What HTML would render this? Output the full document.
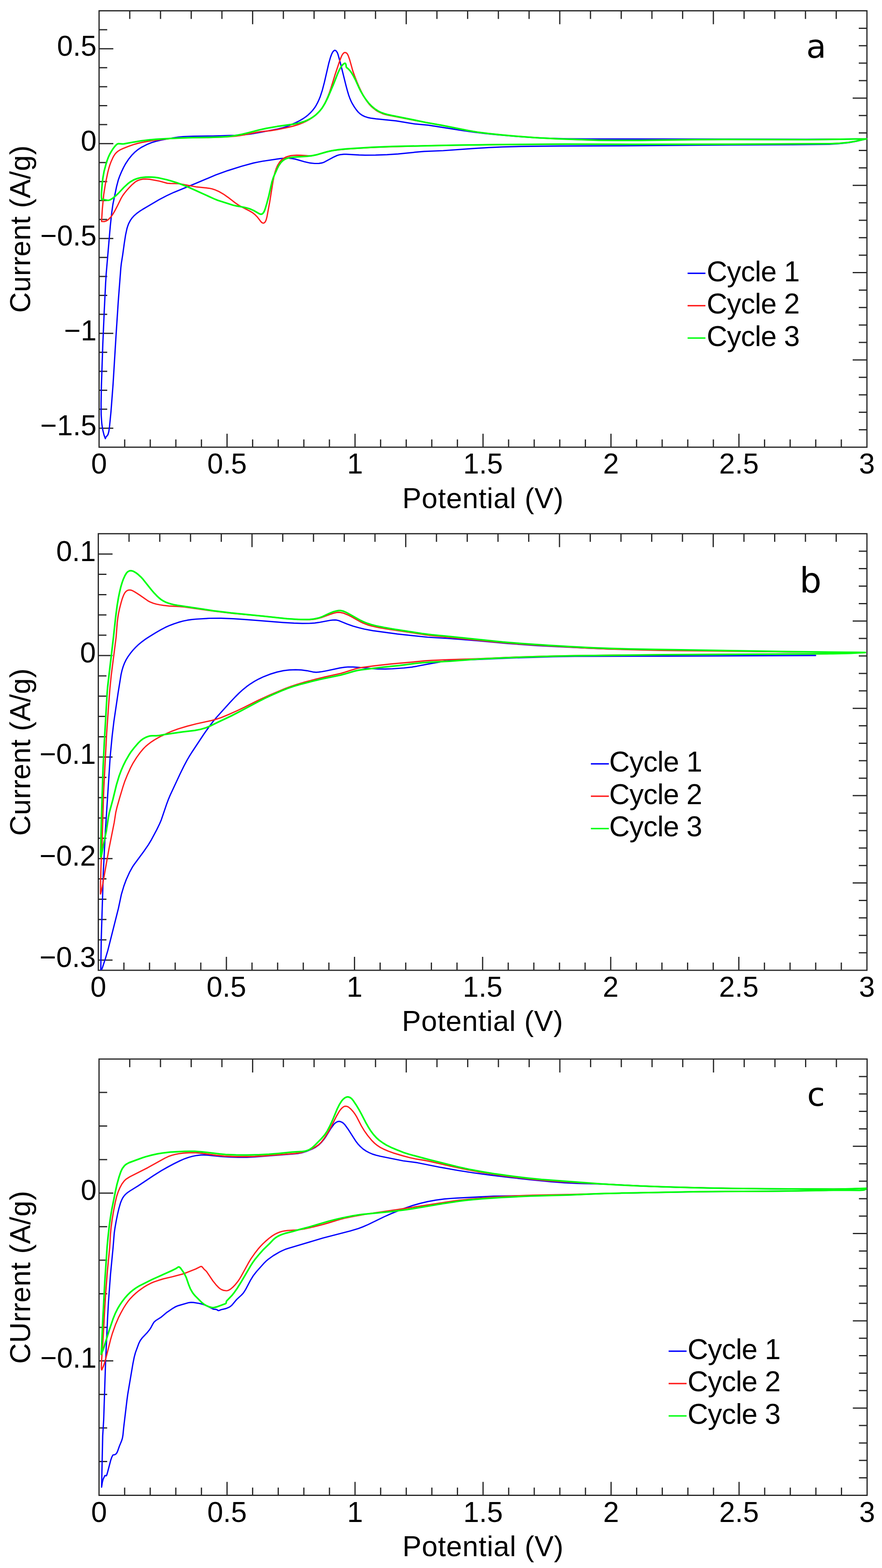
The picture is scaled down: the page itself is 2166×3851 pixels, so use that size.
<!DOCTYPE html>
<html><head><meta charset="utf-8"><title>Cyclic voltammetry</title>
<style>html,body{margin:0;padding:0;background:#fff;}svg{display:block;}</style></head>
<body><svg xmlns="http://www.w3.org/2000/svg" width="2166" height="3851" viewBox="0 0 2166 3851" font-family='"Liberation Sans", Arial, sans-serif' font-size="70" fill="#000">
<rect width="2166" height="3851" fill="#fff"/>
<rect x="243.3" y="26.5" width="1885.7" height="1071.8" fill="none" stroke="#262626" stroke-width="3"/>
<path d="M306.2,1098.3v-19 M369.0,1098.3v-19 M431.9,1098.3v-19 M494.7,1098.3v-19 M557.6,1098.3v-33 M620.4,1098.3v-19 M683.3,1098.3v-19 M746.2,1098.3v-19 M809.0,1098.3v-19 M871.9,1098.3v-33 M934.7,1098.3v-19 M997.6,1098.3v-19 M1060.4,1098.3v-19 M1123.3,1098.3v-19 M1186.2,1098.3v-33 M1249.0,1098.3v-19 M1311.9,1098.3v-19 M1374.7,1098.3v-19 M1437.6,1098.3v-19 M1500.4,1098.3v-33 M1563.3,1098.3v-19 M1626.1,1098.3v-19 M1689.0,1098.3v-19 M1751.9,1098.3v-19 M1814.7,1098.3v-33 M1877.6,1098.3v-19 M1940.4,1098.3v-19 M2003.3,1098.3v-19 M2066.1,1098.3v-19 M318.7,26.5v20 M394.2,26.5v20 M469.6,26.5v20 M545.0,26.5v20 M620.4,26.5v33 M695.9,26.5v20 M771.3,26.5v20 M846.7,26.5v20 M922.2,26.5v20 M997.6,26.5v33 M1073.0,26.5v20 M1148.4,26.5v20 M1223.9,26.5v20 M1299.3,26.5v20 M1374.7,26.5v33 M1450.1,26.5v20 M1525.6,26.5v20 M1601.0,26.5v20 M1676.4,26.5v20 M1751.9,26.5v33 M1827.3,26.5v20 M1902.7,26.5v20 M1978.1,26.5v20 M2053.6,26.5v20 M2129,69.4h-20 M2129,112.2h-20 M2129,155.1h-20 M2129,198.0h-20 M2129,240.9h-35 M2129,283.7h-20 M2129,326.6h-20 M2129,369.5h-20 M2129,412.3h-20 M2129,455.2h-35 M2129,498.1h-20 M2129,541.0h-20 M2129,583.8h-20 M2129,626.7h-20 M2129,669.6h-35 M2129,712.5h-20 M2129,755.3h-20 M2129,798.2h-20 M2129,841.1h-20 M2129,883.9h-35 M2129,926.8h-20 M2129,969.7h-20 M2129,1012.6h-20 M2129,1055.4h-20 M243.3,1051.7h35 M243.3,1005.1h20 M243.3,958.5h20 M243.3,911.9h20 M243.3,865.3h20 M243.3,818.7h35 M243.3,772.1h20 M243.3,725.5h20 M243.3,678.9h20 M243.3,632.3h20 M243.3,585.7h35 M243.3,539.1h20 M243.3,492.5h20 M243.3,445.9h20 M243.3,399.3h20 M243.3,352.7h35 M243.3,306.1h20 M243.3,259.5h20 M243.3,212.9h20 M243.3,166.3h20 M243.3,119.7h35 M243.3,73.1h20" stroke="#262626" stroke-width="3" fill="none"/>
<text x="243.3" y="1163.3" text-anchor="middle">0</text>
<text x="557.6" y="1163.3" text-anchor="middle">0.5</text>
<text x="871.9" y="1163.3" text-anchor="middle">1</text>
<text x="1186.2" y="1163.3" text-anchor="middle">1.5</text>
<text x="1500.4" y="1163.3" text-anchor="middle">2</text>
<text x="1814.7" y="1163.3" text-anchor="middle">2.5</text>
<text x="2129.0" y="1163.3" text-anchor="middle">3</text>
<text x="237.3" y="1068.7" text-anchor="end">−1.5</text>
<text x="237.3" y="835.7" text-anchor="end">−1</text>
<text x="237.3" y="602.7" text-anchor="end">−0.5</text>
<text x="237.3" y="369.7" text-anchor="end">0</text>
<text x="237.3" y="136.7" text-anchor="end">0.5</text>
<text x="1186.2" y="1247.7" text-anchor="middle" letter-spacing="0.85">Potential (V)</text>
<text transform="translate(73.5,562.4) rotate(-90)" text-anchor="middle" letter-spacing="0.55">Current (A/g)</text>
<path d="M2128.0,341.0 2103.2,346.9 2084.0,350.3 2060.2,353.0 2036.2,354.3 1946.2,355.3 1737.6,356.3 1514.1,358.2 1374.6,358.6 1280.0,359.7 1233.5,360.9 1200.6,362.3 1160.1,364.8 1088.3,370.0 1041.8,371.9 1026.9,373.1 977.6,378.2 950.7,379.9 922.2,380.9 896.7,381.1 881.7,380.6 850.3,378.8 844.3,378.8 835.3,379.8 828.1,381.8 817.3,386.8 796.3,398.2 790.6,400.2 783.2,401.4 772.7,401.5 760.8,400.2 747.7,397.3 724.7,390.6 717.3,389.3 708.4,388.5 699.4,388.5 689.0,389.4 644.5,396.0 632.7,398.2 622.4,400.4 593.5,408.3 559.1,419.1 529.5,429.8 481.1,450.3 427.0,472.4 409.3,480.6 390.7,490.4 350.6,514.0 341.8,519.7 335.8,524.1 329.1,530.0 324.1,535.6 319.9,541.7 315.8,549.6 313.7,555.2 311.9,560.9 308.4,577.0 305.4,596.3 301.3,626.0 298.0,646.7 296.8,657.1 290.5,739.4 285.0,823.3 277.7,943.1 272.6,1010.4 269.1,1046.2 267.3,1059.5 265.4,1066.6 264.1,1069.1 260.3,1073.1 258.8,1077.3 257.1,1073.1 255.2,1067.4 253.0,1058.7 251.1,1048.4 249.9,1039.5 248.4,1018.6 248.2,991.6 249.0,948.1 252.5,844.6 256.0,763.7 259.4,694.8 260.8,672.3 270.8,555.7 274.3,522.9 277.2,502.1 286.3,458.1 290.5,442.1 294.0,432.3 298.7,421.2 303.2,411.7 308.2,402.5 315.6,391.3 323.1,381.9 331.4,373.4 339.6,366.8 348.4,361.2 360.4,355.1 372.9,350.0 384.4,346.6 396.1,344.0 425.6,338.5 437.4,336.8 449.4,335.7 474.8,334.5 522.8,334.0 576.8,332.3 599.3,331.0 615.7,329.2 645.2,324.0 682.0,316.8 693.7,314.1 703.7,310.9 713.4,307.0 725.7,301.5 736.4,296.1 744.2,291.5 750.4,287.3 756.2,282.7 762.8,276.5 767.8,271.0 772.4,265.1 776.4,258.8 779.9,252.2 783.1,245.4 786.5,237.1 791.6,221.4 796.5,202.6 807.3,155.8 811.4,141.4 813.9,134.4 816.4,128.9 819.1,125.3 821.5,123.7 823.0,123.6 824.3,124.2 825.5,125.1 828.1,128.7 829.8,132.8 835.1,151.5 849.6,209.8 853.5,224.3 856.5,234.3 859.1,241.3 862.0,248.2 864.7,253.6 870.1,262.6 875.2,269.9 880.0,275.6 884.4,279.6 889.2,283.0 895.8,286.3 902.9,288.6 910.2,290.1 923.5,291.8 972.8,296.8 1018.6,304.4 1051.4,307.4 1134.4,320.4 1162.6,324.3 1190.9,327.8 1220.8,330.9 1273.1,335.4 1306.0,337.7 1334.5,339.2 1393.0,340.9 1456.0,341.4 1781.5,341.5 1979.5,342.0 2071.0,341.7 2128.0,341.0" fill="none" stroke="#0000ff" stroke-width="3.2" stroke-linejoin="round" stroke-linecap="round"/>
<path d="M2128.0,341.0 2100.2,347.1 2085.4,349.6 2063.0,351.8 2039.0,352.9 1784.0,354.3 1548.5,354.5 1369.9,354.1 1200.4,355.4 1059.4,357.7 947.0,360.8 915.5,362.1 885.5,363.8 854.1,365.9 833.2,367.9 818.3,369.7 808.0,371.6 799.3,373.9 779.2,379.8 773.3,381.1 767.5,382.1 757.1,382.5 739.1,381.4 728.6,381.1 721.2,381.5 713.8,382.4 706.6,384.2 701.1,386.3 696.0,389.2 691.4,392.9 686.6,398.4 681.9,406.0 678.3,414.2 675.0,424.1 672.9,432.9 670.3,446.1 662.3,496.5 655.7,531.9 653.9,539.1 652.2,543.3 650.7,545.8 648.4,547.6 646.9,548.0 645.5,547.9 642.9,546.5 640.8,544.4 631.6,532.6 626.4,527.3 620.6,522.7 612.9,518.1 592.9,507.8 585.1,503.4 577.7,498.3 559.9,484.6 548.8,476.8 538.5,470.8 529.0,466.6 520.4,463.8 513.1,462.3 483.3,459.2 443.6,451.7 434.7,450.8 418.3,450.7 411.0,450.1 391.2,444.8 367.7,440.4 357.4,439.6 351.4,439.9 347.1,440.6 342.8,441.7 338.7,443.3 334.7,445.3 331.1,447.8 323.2,454.6 317.0,461.1 311.1,467.8 305.4,474.8 301.1,480.8 297.3,487.3 288.1,506.1 281.1,519.4 276.5,527.1 272.1,533.1 266.0,539.4 261.1,542.6 258.3,543.6 255.4,544.2 249.4,543.8 251.4,512.4 254.7,478.0 258.9,451.3 264.7,423.4 267.3,413.3 269.9,404.7 273.1,396.3 276.8,388.1 279.6,382.8 282.9,377.9 286.9,373.7 290.3,371.0 295.3,367.9 302.1,364.8 316.0,359.3 327.4,355.3 337.5,352.4 347.7,350.0 369.8,345.9 393.6,342.8 414.5,340.7 427.9,339.7 460.9,338.5 513.4,337.7 541.9,336.9 564.4,335.7 580.8,334.2 595.7,331.9 632.4,324.6 641.3,323.4 665.2,320.9 681.5,318.2 707.9,312.7 719.6,309.9 732.5,305.9 743.7,301.6 751.8,297.8 759.7,293.5 767.2,288.6 773.2,284.1 779.9,278.1 785.0,272.7 789.7,266.9 793.8,260.6 797.4,254.1 801.4,246.0 805.5,236.4 809.3,226.6 813.1,215.2 822.3,185.1 832.8,153.8 837.4,141.1 839.9,135.7 842.3,132.0 844.4,129.9 845.7,129.2 847.2,129.0 848.7,129.1 851.3,130.5 853.2,132.8 855.2,136.8 858.7,146.6 866.4,174.1 871.4,188.2 876.4,200.8 881.7,213.2 887.5,225.4 892.3,234.7 900.1,247.5 907.5,256.9 911.6,261.2 917.2,266.1 922.0,269.8 926.9,273.1 932.2,275.9 939.0,278.9 946.1,281.1 953.4,282.9 1021.1,296.3 1080.2,306.9 1144.9,319.8 1162.6,323.0 1187.9,326.6 1225.2,330.7 1261.0,334.0 1308.9,337.6 1337.4,339.4 1367.3,340.8 1440.8,343.6 1467.8,344.3 1511.3,344.7 1571.3,344.7 1709.4,343.0 1781.4,342.5 1987.0,342.9 2062.0,342.1 2128.0,341.0" fill="none" stroke="#ff1c1c" stroke-width="3.2" stroke-linejoin="round" stroke-linecap="round"/>
<path d="M2128.0,341.0 2100.2,347.1 2083.9,349.8 2061.5,351.9 2037.5,352.9 1790.0,354.3 1547.0,354.5 1391.0,354.0 1235.0,355.0 1118.0,356.6 962.0,359.7 912.6,361.7 852.7,365.4 831.8,367.5 814.0,370.3 802.3,373.0 779.3,379.7 764.6,382.7 752.7,384.0 722.8,385.8 712.4,387.0 706.6,388.3 702.5,389.8 698.6,391.8 694.9,394.2 689.7,399.3 684.7,406.6 680.6,414.6 671.6,435.1 667.9,446.5 660.0,481.6 655.4,499.0 651.6,511.9 649.6,517.5 647.6,521.5 644.7,524.9 642.0,526.1 640.6,526.2 637.7,525.4 623.4,517.3 616.6,514.2 611.0,512.1 600.9,509.4 581.7,506.0 572.9,504.1 534.5,491.9 526.2,488.5 464.8,460.6 449.5,454.4 435.4,449.2 421.2,444.6 409.6,441.4 390.6,437.1 380.3,435.5 372.8,434.9 365.3,434.8 357.8,435.0 350.4,435.7 344.5,436.6 338.7,438.0 333.0,439.8 327.6,442.2 321.1,445.9 314.0,451.2 304.1,460.4 290.9,474.5 285.6,479.6 276.8,487.0 272.0,489.9 269.5,491.1 267.0,491.9 264.2,492.0 252.6,489.8 251.1,490.0 249.8,490.7 249.1,484.7 248.9,478.8 249.3,471.3 251.1,450.4 252.7,437.0 255.6,420.7 260.6,401.9 263.4,393.4 266.0,386.4 269.1,379.5 272.7,373.0 277.5,365.4 282.0,359.5 286.1,355.2 288.5,353.5 291.3,352.7 300.2,353.6 304.7,353.3 328.2,348.9 346.0,346.1 366.8,343.4 383.3,342.0 419.2,340.0 447.7,338.8 473.2,338.1 512.2,337.5 536.1,336.7 552.6,335.9 566.1,334.7 579.4,332.7 595.6,329.5 610.2,326.0 636.3,319.1 653.8,315.3 680.4,310.6 722.0,304.8 735.2,301.9 746.6,298.5 753.6,295.7 760.3,292.4 766.7,288.6 771.6,285.2 776.3,281.5 781.7,276.3 786.7,270.8 791.3,264.9 798.3,253.4 804.9,240.0 818.5,208.3 828.9,181.7 833.8,170.8 836.7,165.6 840.1,160.7 843.2,157.5 845.7,155.7 847.0,155.3 848.2,155.9 849.0,157.1 849.8,160.0 850.3,164.4 851.0,165.6 855.6,169.5 859.7,173.9 863.2,178.7 867.1,185.1 872.7,195.7 881.3,214.8 885.3,222.9 891.2,233.3 897.8,243.3 905.0,252.8 913.3,261.4 921.4,268.0 930.3,273.6 937.0,276.7 944.1,279.2 951.3,281.2 961.5,283.5 1017.4,294.7 1045.2,300.6 1085.1,307.8 1151.3,321.0 1172.0,324.4 1201.7,328.2 1236.1,331.8 1270.4,334.7 1316.8,338.2 1370.7,341.0 1442.6,343.6 1471.1,344.4 1514.6,344.8 1573.1,344.7 1708.1,343.0 1781.6,342.5 1987.0,342.9 2062.0,342.1 2128.0,341.0" fill="none" stroke="#00ff10" stroke-width="4" stroke-linejoin="round" stroke-linecap="round"/>
<path d="M1688.6,671.3H1732.4" stroke="#0000ff" stroke-width="3.5"/>
<text x="1735.6" y="690.6" letter-spacing="-0.8">Cycle 1</text>
<path d="M1688.6,750.8H1732.4" stroke="#ff1c1c" stroke-width="3.5"/>
<text x="1735.6" y="770.1" letter-spacing="-0.8">Cycle 2</text>
<path d="M1688.6,830.3H1732.4" stroke="#00ff10" stroke-width="3.5"/>
<text x="1735.6" y="849.6" letter-spacing="-0.8">Cycle 3</text>
<text x="1980" y="141.7" font-family='"DejaVu Sans", sans-serif' font-size="80">a</text>
<rect x="241.4" y="1310.8" width="1887.6" height="1072.2" fill="none" stroke="#262626" stroke-width="3"/>
<path d="M304.3,2383v-19 M367.2,2383v-19 M430.2,2383v-19 M493.1,2383v-19 M556.0,2383v-33 M618.9,2383v-19 M681.8,2383v-19 M744.8,2383v-19 M807.7,2383v-19 M870.6,2383v-33 M933.5,2383v-19 M996.4,2383v-19 M1059.4,2383v-19 M1122.3,2383v-19 M1185.2,2383v-33 M1248.1,2383v-19 M1311.0,2383v-19 M1374.0,2383v-19 M1436.9,2383v-19 M1499.8,2383v-33 M1562.7,2383v-19 M1625.6,2383v-19 M1688.6,2383v-19 M1751.5,2383v-19 M1814.4,2383v-33 M1877.3,2383v-19 M1940.2,2383v-19 M2003.2,2383v-19 M2066.1,2383v-19 M316.9,1310.8v20 M392.4,1310.8v20 M467.9,1310.8v20 M543.4,1310.8v20 M618.9,1310.8v33 M694.4,1310.8v20 M769.9,1310.8v20 M845.4,1310.8v20 M920.9,1310.8v20 M996.4,1310.8v33 M1071.9,1310.8v20 M1147.4,1310.8v20 M1223.0,1310.8v20 M1298.5,1310.8v20 M1374.0,1310.8v33 M1449.5,1310.8v20 M1525.0,1310.8v20 M1600.5,1310.8v20 M1676.0,1310.8v20 M1751.5,1310.8v33 M1827.0,1310.8v20 M1902.5,1310.8v20 M1978.0,1310.8v20 M2053.5,1310.8v20 M2129,1353.7h-20 M2129,1396.6h-20 M2129,1439.5h-20 M2129,1482.4h-20 M2129,1525.2h-35 M2129,1568.1h-20 M2129,1611.0h-20 M2129,1653.9h-20 M2129,1696.8h-20 M2129,1739.7h-35 M2129,1782.6h-20 M2129,1825.5h-20 M2129,1868.3h-20 M2129,1911.2h-20 M2129,1954.1h-35 M2129,1997.0h-20 M2129,2039.9h-20 M2129,2082.8h-20 M2129,2125.7h-20 M2129,2168.6h-35 M2129,2211.4h-20 M2129,2254.3h-20 M2129,2297.2h-20 M2129,2340.1h-20 M241.4,1360.7h35 M241.4,1410.5h20 M241.4,1460.4h20 M241.4,1510.3h20 M241.4,1560.1h20 M241.4,1610.0h35 M241.4,1659.9h20 M241.4,1709.7h20 M241.4,1759.6h20 M241.4,1809.5h20 M241.4,1859.3h35 M241.4,1909.2h20 M241.4,1959.1h20 M241.4,2009.0h20 M241.4,2058.8h20 M241.4,2108.7h35 M241.4,2158.6h20 M241.4,2208.4h20 M241.4,2258.3h20 M241.4,2308.2h20 M241.4,2358.1h35" stroke="#262626" stroke-width="3" fill="none"/>
<text x="241.4" y="2448" text-anchor="middle">0</text>
<text x="556.0" y="2448" text-anchor="middle">0.5</text>
<text x="870.6" y="2448" text-anchor="middle">1</text>
<text x="1185.2" y="2448" text-anchor="middle">1.5</text>
<text x="1499.8" y="2448" text-anchor="middle">2</text>
<text x="1814.4" y="2448" text-anchor="middle">2.5</text>
<text x="2129.0" y="2448" text-anchor="middle">3</text>
<text x="235.4" y="1377.7" text-anchor="end">0.1</text>
<text x="235.4" y="1627.0" text-anchor="end">0</text>
<text x="235.4" y="1876.3" text-anchor="end">−0.1</text>
<text x="235.4" y="2125.7" text-anchor="end">−0.2</text>
<text x="235.4" y="2375.1" text-anchor="end">−0.3</text>
<text x="1185.2" y="2532.4" text-anchor="middle" letter-spacing="0.85">Potential (V)</text>
<text transform="translate(73.5,1846.9) rotate(-90)" text-anchor="middle" letter-spacing="0.55">Current (A/g)</text>
<path d="M2003.0,1609.8 1634.0,1611.5 1412.0,1611.8 1358.0,1612.8 1247.1,1616.3 1166.2,1620.0 1118.2,1621.4 1103.2,1622.4 1091.4,1623.9 1054.4,1630.3 1023.5,1636.3 1011.7,1638.3 992.3,1640.5 963.9,1642.5 945.9,1643.1 926.4,1642.8 914.4,1642.1 893.5,1640.0 866.6,1638.2 854.7,1638.0 845.8,1638.8 835.4,1640.4 803.1,1647.3 791.3,1649.5 782.4,1650.7 776.5,1651.1 770.5,1650.7 754.3,1647.3 739.5,1645.4 726.0,1644.8 711.0,1645.4 696.2,1647.1 680.1,1650.6 662.9,1655.9 647.5,1661.9 635.3,1667.7 624.8,1673.4 614.7,1679.8 606.1,1685.9 596.8,1693.4 586.8,1702.5 577.3,1712.0 564.9,1725.1 532.7,1760.7 524.0,1771.0 514.9,1782.9 501.0,1802.5 471.2,1847.5 464.8,1857.7 459.5,1866.7 451.8,1881.3 442.5,1900.1 417.8,1953.1 413.2,1964.2 409.0,1975.5 396.0,2013.8 391.9,2023.4 384.7,2038.3 372.0,2062.1 364.3,2074.9 353.2,2091.0 329.2,2123.5 325.1,2129.7 317.9,2142.8 309.9,2160.6 304.2,2176.1 298.2,2196.2 290.7,2231.4 264.7,2334.6 258.7,2354.7 251.2,2377.5 250.0,2380.2 248.9,2381.1 247.5,2381.1 248.7,2304.6 253.8,2141.2 258.8,2040.8 270.6,1858.2 275.3,1808.9 279.7,1771.7 290.0,1702.0 297.4,1656.1 299.8,1645.9 302.4,1637.3 305.6,1628.9 309.5,1620.8 314.1,1613.1 320.2,1604.6 326.8,1596.5 333.0,1589.9 340.6,1582.7 348.7,1576.1 355.9,1570.7 365.9,1564.1 382.5,1553.8 395.5,1546.3 406.1,1540.8 417.1,1535.9 426.9,1532.2 438.3,1528.4 449.8,1525.3 460.1,1523.2 470.5,1521.7 482.4,1520.5 515.4,1518.5 542.4,1518.4 573.8,1519.6 606.8,1521.8 695.0,1528.8 721.9,1530.4 742.9,1531.1 759.4,1531.0 772.9,1530.2 783.2,1528.7 811.3,1523.5 817.2,1522.8 823.2,1522.7 827.7,1523.2 832.0,1524.3 852.8,1532.7 867.0,1537.7 881.4,1541.8 894.5,1545.0 915.1,1548.9 976.0,1557.2 1050.6,1565.0 1100.0,1568.0 1135.9,1570.6 1173.3,1573.7 1246.5,1580.4 1319.8,1585.6 1363.2,1588.0 1456.1,1592.5 1495.1,1593.8 1552.1,1595.1 1951.0,1601.1 2125.0,1602.5" fill="none" stroke="#0000ff" stroke-width="3.2" stroke-linejoin="round" stroke-linecap="round"/>
<path d="M2125.0,1602.5 2087.6,1604.5 2038.1,1605.5 1937.6,1606.3 1616.7,1608.1 1480.3,1609.4 1388.8,1610.6 1333.3,1611.8 1282.4,1613.3 1237.4,1615.0 1168.5,1618.1 1102.5,1620.0 1060.6,1621.8 1044.1,1622.9 1014.3,1625.9 960.5,1630.6 920.3,1635.1 886.1,1639.7 877.3,1641.5 870.1,1643.4 847.3,1650.8 837.2,1653.8 797.7,1662.6 774.4,1668.3 749.7,1674.8 728.2,1681.2 714.0,1686.0 699.9,1691.3 662.6,1706.9 632.6,1720.6 597.8,1738.1 581.5,1745.9 561.0,1755.0 542.9,1762.4 531.6,1766.3 521.5,1769.1 482.0,1777.8 460.2,1783.4 437.2,1790.2 421.7,1795.9 409.4,1801.4 397.2,1807.2 387.9,1812.1 378.9,1817.4 371.4,1822.3 364.2,1827.7 357.4,1833.5 352.1,1838.9 344.4,1848.0 335.6,1860.1 326.8,1874.1 320.5,1886.0 312.5,1903.8 306.4,1919.1 302.1,1931.9 293.9,1959.2 287.4,1982.2 284.3,1995.4 280.4,2020.5 267.5,2085.2 251.3,2176.8 248.9,2188.5 246.8,2195.7 246.9,2168.7 248.0,2129.7 250.9,2062.3 253.7,1967.8 254.9,1936.3 261.9,1801.5 266.8,1731.1 270.1,1689.2 273.3,1657.9 285.1,1565.6 288.0,1528.3 289.5,1516.4 291.2,1506.0 293.7,1494.3 297.5,1479.7 300.0,1471.1 303.1,1462.7 305.7,1457.4 308.2,1453.8 311.6,1450.9 314.3,1449.6 317.2,1449.0 320.2,1449.1 323.1,1449.8 327.2,1451.6 332.4,1454.6 342.5,1461.1 362.1,1474.8 367.2,1477.8 371.3,1479.6 376.9,1481.7 384.1,1483.7 392.9,1485.5 401.8,1486.9 415.2,1488.3 440.7,1489.7 454.1,1490.9 526.9,1501.2 573.1,1506.7 647.8,1513.4 700.0,1519.0 720.9,1520.6 738.9,1521.6 759.9,1521.9 767.3,1521.4 774.7,1520.4 782.0,1518.8 789.2,1516.7 808.9,1509.4 820.3,1505.7 827.6,1504.2 832.1,1503.9 835.1,1504.1 842.4,1505.6 853.6,1509.9 863.0,1514.6 882.5,1525.7 890.6,1529.7 897.5,1532.6 904.5,1535.2 911.7,1537.3 929.2,1541.2 952.9,1545.1 1004.8,1552.8 1040.4,1558.5 1053.8,1560.3 1213.5,1576.3 1244.9,1579.2 1279.3,1581.9 1328.7,1585.2 1441.0,1591.6 1492.0,1593.9 1569.9,1596.2 1623.9,1597.4 1683.9,1598.2 1972.0,1601.4 2125.0,1602.5" fill="none" stroke="#ff1c1c" stroke-width="3.2" stroke-linejoin="round" stroke-linecap="round"/>
<path d="M2125.0,1602.5 2089.0,1604.5 2045.5,1605.4 1942.0,1606.3 1630.0,1608.0 1410.9,1610.5 1350.9,1611.8 1287.9,1613.7 1234.0,1615.7 1183.0,1618.2 1156.1,1619.9 1103.7,1624.0 1057.3,1626.2 1037.8,1627.6 1016.9,1629.8 981.2,1634.4 943.9,1638.3 887.3,1645.1 878.4,1646.5 869.7,1648.5 846.7,1655.3 836.5,1658.0 788.1,1668.1 766.2,1673.3 741.5,1679.7 722.7,1685.1 707.1,1690.4 689.0,1697.6 668.4,1706.6 652.1,1714.3 633.3,1723.7 589.7,1747.1 568.3,1758.1 534.4,1774.1 515.6,1783.4 505.9,1787.3 493.0,1791.1 478.3,1794.0 448.5,1797.4 404.0,1804.1 389.5,1806.6 383.8,1807.0 373.8,1806.9 368.1,1807.5 362.5,1809.1 357.0,1811.4 351.9,1814.2 345.9,1818.6 339.5,1824.9 329.7,1836.2 322.3,1845.7 316.6,1854.4 309.1,1867.4 303.1,1879.5 297.7,1891.9 292.5,1905.9 286.0,1927.5 277.1,1963.9 268.5,1995.7 266.2,2007.5 261.0,2041.6 254.2,2073.9 249.5,2099.0 248.7,2101.9 247.5,2104.6 247.2,2095.6 248.8,2019.2 253.1,1885.7 256.1,1824.3 262.9,1704.5 264.2,1688.1 278.3,1567.5 284.0,1515.3 287.7,1487.0 290.9,1467.8 293.6,1454.6 296.7,1441.5 299.7,1431.4 302.7,1422.9 307.0,1413.4 310.8,1407.1 314.0,1404.0 318.0,1402.0 319.5,1401.7 322.5,1401.7 325.4,1402.4 328.2,1403.4 333.4,1406.4 339.3,1410.9 345.9,1416.9 351.0,1422.4 371.5,1448.3 378.3,1456.2 384.5,1462.7 389.9,1467.9 395.7,1472.6 400.7,1475.8 407.3,1479.1 412.9,1481.2 420.1,1483.4 427.4,1485.1 436.2,1486.7 523.7,1499.9 566.8,1505.3 645.9,1513.2 704.1,1519.4 731.0,1521.2 753.5,1521.6 761.0,1521.3 768.4,1520.6 780.2,1518.3 785.9,1516.6 791.5,1514.5 809.1,1506.3 818.8,1502.4 827.5,1500.2 832.0,1499.5 836.4,1499.5 842.3,1500.7 849.2,1503.6 859.8,1509.2 883.2,1522.6 892.7,1527.1 902.4,1531.0 912.4,1534.2 924.0,1537.1 943.1,1541.0 963.8,1544.7 1036.4,1556.0 1060.2,1559.0 1102.0,1563.0 1234.8,1576.8 1281.1,1580.5 1343.9,1584.8 1408.3,1588.5 1457.7,1591.0 1498.2,1592.5 1549.2,1593.9 1948.0,1600.5 2125.0,1602.5" fill="none" stroke="#00ff10" stroke-width="4" stroke-linejoin="round" stroke-linecap="round"/>
<path d="M1451.1,1875.9H1495.2" stroke="#0000ff" stroke-width="3.5"/>
<text x="1496" y="1895.2" letter-spacing="-0.8">Cycle 1</text>
<path d="M1451.1,1955.4H1495.2" stroke="#ff1c1c" stroke-width="3.5"/>
<text x="1496" y="1974.7" letter-spacing="-0.8">Cycle 2</text>
<path d="M1451.1,2034.9H1495.2" stroke="#00ff10" stroke-width="3.5"/>
<text x="1496" y="2054.2" letter-spacing="-0.8">Cycle 3</text>
<text x="1963.5" y="1455.2" font-family='"DejaVu Sans", sans-serif' font-size="85">b</text>
<rect x="243.2" y="2601" width="1886.2" height="1071.5" fill="none" stroke="#262626" stroke-width="3"/>
<path d="M306.1,3672.5v-19 M368.9,3672.5v-19 M431.8,3672.5v-19 M494.7,3672.5v-19 M557.6,3672.5v-33 M620.4,3672.5v-19 M683.3,3672.5v-19 M746.2,3672.5v-19 M809.1,3672.5v-19 M871.9,3672.5v-33 M934.8,3672.5v-19 M997.7,3672.5v-19 M1060.6,3672.5v-19 M1123.4,3672.5v-19 M1186.3,3672.5v-33 M1249.2,3672.5v-19 M1312.0,3672.5v-19 M1374.9,3672.5v-19 M1437.8,3672.5v-19 M1500.7,3672.5v-33 M1563.5,3672.5v-19 M1626.4,3672.5v-19 M1689.3,3672.5v-19 M1752.2,3672.5v-19 M1815.0,3672.5v-33 M1877.9,3672.5v-19 M1940.8,3672.5v-19 M2003.7,3672.5v-19 M2066.5,3672.5v-19 M318.6,2601v20 M394.1,2601v20 M469.5,2601v20 M545.0,2601v20 M620.4,2601v33 M695.9,2601v20 M771.3,2601v20 M846.8,2601v20 M922.2,2601v20 M997.7,2601v33 M1073.1,2601v20 M1148.6,2601v20 M1224.0,2601v20 M1299.5,2601v20 M1374.9,2601v33 M1450.4,2601v20 M1525.8,2601v20 M1601.3,2601v20 M1676.7,2601v20 M1752.2,2601v33 M1827.6,2601v20 M1903.1,2601v20 M1978.5,2601v20 M2054.0,2601v20 M2129.4,2643.9h-20 M2129.4,2686.7h-20 M2129.4,2729.6h-20 M2129.4,2772.4h-20 M2129.4,2815.3h-35 M2129.4,2858.2h-20 M2129.4,2901.0h-20 M2129.4,2943.9h-20 M2129.4,2986.7h-20 M2129.4,3029.6h-35 M2129.4,3072.5h-20 M2129.4,3115.3h-20 M2129.4,3158.2h-20 M2129.4,3201.0h-20 M2129.4,3243.9h-35 M2129.4,3286.8h-20 M2129.4,3329.6h-20 M2129.4,3372.5h-20 M2129.4,3415.3h-20 M2129.4,3458.2h-35 M2129.4,3501.1h-20 M2129.4,3543.9h-20 M2129.4,3586.8h-20 M2129.4,3629.6h-20 M243.2,2683.1h20 M243.2,2765.5h20 M243.2,2847.9h20 M243.2,2930.3h35 M243.2,3012.7h20 M243.2,3095.1h20 M243.2,3177.5h20 M243.2,3259.9h20 M243.2,3342.3h35 M243.2,3424.7h20 M243.2,3507.1h20 M243.2,3589.5h20" stroke="#262626" stroke-width="3" fill="none"/>
<text x="243.2" y="3737.5" text-anchor="middle">0</text>
<text x="557.6" y="3737.5" text-anchor="middle">0.5</text>
<text x="871.9" y="3737.5" text-anchor="middle">1</text>
<text x="1186.3" y="3737.5" text-anchor="middle">1.5</text>
<text x="1500.7" y="3737.5" text-anchor="middle">2</text>
<text x="1815.0" y="3737.5" text-anchor="middle">2.5</text>
<text x="2129.4" y="3737.5" text-anchor="middle">3</text>
<text x="237.2" y="2947.3" text-anchor="end">0</text>
<text x="237.2" y="3359.3" text-anchor="end">−0.1</text>
<text x="1186.3" y="3821.9" text-anchor="middle" letter-spacing="0.85">Potential (V)</text>
<text transform="translate(73.5,3136.8) rotate(-90)" text-anchor="middle" letter-spacing="0.72">CUrrent (A/g)</text>
<path d="M2127.0,2918.5 2125.5,2921.0 2122.9,2922.3 2118.5,2923.1 2111.0,2923.5 2061.6,2923.0 1914.6,2925.4 1716.7,2926.8 1517.3,2930.5 1476.8,2931.6 1395.9,2935.0 1211.5,2937.9 1123.1,2942.4 1105.2,2943.5 1091.7,2944.7 1070.9,2947.4 1050.2,2951.1 1031.3,2955.6 1011.1,2961.4 989.9,2968.8 959.3,2981.2 942.9,2988.6 903.8,3007.6 891.4,3013.0 880.2,3017.2 860.1,3023.2 793.3,3040.5 708.6,3065.8 700.1,3068.6 693.2,3071.6 686.5,3074.9 671.0,3084.0 658.8,3092.7 653.1,3097.6 648.9,3101.8 629.9,3123.0 621.7,3133.6 615.4,3143.8 603.5,3166.4 600.4,3171.5 597.0,3176.3 593.0,3180.6 581.1,3191.6 569.7,3205.2 566.4,3208.1 562.8,3210.5 554.8,3213.9 543.1,3216.5 537.6,3218.7 536.1,3218.8 534.8,3218.2 532.4,3216.4 531.0,3215.9 525.2,3215.4 522.5,3214.6 506.7,3206.5 496.9,3203.0 488.2,3201.0 475.0,3198.9 469.2,3198.6 463.5,3199.3 438.0,3206.6 432.5,3208.8 428.5,3210.8 422.2,3214.7 409.9,3223.1 395.1,3235.4 383.0,3243.0 379.8,3245.7 377.9,3247.7 375.6,3251.3 370.0,3261.7 366.7,3266.6 362.0,3272.3 349.7,3285.3 344.5,3292.2 340.9,3299.4 332.6,3322.0 329.5,3333.6 326.3,3349.7 313.8,3423.7 311.8,3438.5 303.8,3505.5 301.9,3524.9 300.6,3532.2 298.4,3539.2 293.3,3551.5 288.8,3564.2 286.9,3568.2 285.2,3570.5 282.8,3572.3 281.5,3572.8 278.6,3573.0 277.4,3573.7 276.5,3574.9 274.5,3578.9 272.0,3586.0 264.4,3615.0 262.3,3622.2 261.0,3624.5 259.9,3624.7 258.8,3623.9 257.6,3624.1 256.8,3625.3 253.1,3633.4 251.3,3640.6 249.5,3652.5 252.2,3526.5 254.6,3487.6 259.2,3346.7 264.1,3238.8 266.4,3196.9 271.4,3129.5 277.7,3063.8 280.6,3028.0 282.3,3016.1 285.4,2998.4 288.7,2982.2 292.1,2967.6 295.8,2954.7 298.0,2949.1 300.5,2943.7 302.8,2939.9 305.4,2936.4 308.4,2933.1 312.9,2929.3 319.0,2925.0 339.4,2912.3 376.8,2887.3 395.9,2875.4 411.5,2866.5 427.4,2858.0 442.2,2850.7 453.2,2845.9 463.1,2842.5 473.2,2839.8 483.5,2837.8 493.9,2836.7 499.9,2836.6 507.3,2836.9 543.2,2840.4 562.6,2841.7 585.1,2842.5 606.1,2842.5 625.6,2841.5 722.8,2833.9 733.2,2832.8 740.5,2831.4 752.0,2827.9 765.9,2822.3 775.1,2817.5 782.4,2812.3 789.9,2805.1 796.5,2797.0 801.5,2789.5 812.4,2771.6 819.4,2762.0 822.5,2758.7 826.1,2756.1 830.2,2754.3 833.2,2754.2 836.1,2754.7 840.2,2756.4 843.8,2759.1 846.9,2762.3 854.8,2773.2 873.4,2802.2 878.8,2809.3 884.9,2815.9 891.6,2821.9 898.9,2826.9 906.9,2831.1 915.1,2834.6 923.7,2837.3 933.9,2839.8 989.8,2851.0 1025.4,2855.7 1082.8,2867.2 1124.1,2874.5 1162.7,2880.5 1202.8,2885.9 1250.5,2891.6 1302.6,2897.4 1353.4,2902.3 1386.3,2905.0 1416.2,2906.5 1489.7,2908.4 1572.1,2912.7 1606.6,2914.1 1662.1,2915.8 1746.0,2917.8 1812.0,2918.9 1879.5,2919.6 2049.0,2920.4 2077.5,2920.0 2127.0,2918.5" fill="none" stroke="#0000ff" stroke-width="3.2" stroke-linejoin="round" stroke-linecap="round"/>
<path d="M2127.0,2918.5 2125.5,2921.0 2122.9,2922.3 2118.5,2923.1 2111.0,2923.5 2060.1,2923.0 1920.6,2925.3 1746.6,2926.5 1668.6,2927.5 1500.7,2930.9 1398.7,2933.6 1308.8,2935.3 1256.3,2937.5 1202.4,2940.7 1150.1,2945.3 1117.4,2949.1 975.0,2970.8 924.5,2978.0 896.4,2982.3 866.8,2987.6 844.8,2992.2 831.8,2995.7 806.0,3003.6 791.6,3007.7 769.7,3013.2 749.3,3017.8 733.0,3020.5 706.1,3022.1 698.7,3023.1 692.9,3024.2 685.8,3026.4 680.3,3028.7 675.0,3031.4 668.6,3035.4 661.4,3040.7 653.4,3047.5 645.7,3054.6 639.5,3061.1 633.6,3067.9 627.1,3076.2 615.9,3092.1 609.8,3102.4 592.5,3134.0 587.9,3141.7 583.7,3147.8 578.0,3154.8 571.8,3161.3 566.1,3166.1 561.0,3169.0 558.1,3169.8 555.1,3170.0 549.2,3169.2 543.6,3167.0 541.1,3165.5 537.6,3162.8 530.4,3155.3 522.9,3146.0 507.1,3122.6 500.6,3116.6 496.9,3111.9 495.8,3111.0 494.4,3110.4 493.0,3110.6 491.6,3111.1 480.9,3116.5 451.9,3128.1 423.0,3135.7 401.1,3140.9 389.6,3144.4 378.3,3148.3 370.0,3151.8 360.8,3156.7 351.8,3162.2 342.1,3169.1 333.9,3175.7 326.2,3182.8 320.0,3189.3 314.3,3196.3 309.1,3203.6 303.5,3212.5 297.0,3224.3 290.9,3236.3 283.8,3252.8 275.8,3275.4 271.6,3289.8 261.0,3332.0 256.9,3346.4 254.1,3355.0 249.9,3364.6 249.3,3363.3 248.9,3360.3 248.9,3355.8 249.7,3337.8 253.6,3281.0 257.3,3212.1 259.3,3179.1 263.8,3120.8 269.4,3064.1 271.3,3031.1 273.0,3013.2 275.6,2993.9 279.1,2973.2 283.1,2952.6 286.6,2938.0 290.4,2926.6 294.5,2917.0 299.5,2907.8 304.8,2900.7 307.9,2897.6 311.4,2894.8 318.9,2890.1 363.1,2867.7 405.0,2844.4 413.1,2840.6 421.6,2837.5 430.2,2835.2 439.0,2833.5 449.4,2832.1 459.9,2831.3 470.4,2830.9 480.9,2831.1 492.8,2832.1 531.5,2837.3 550.9,2839.3 579.3,2840.7 607.8,2840.7 625.8,2840.1 651.3,2838.6 726.0,2832.8 737.9,2831.1 743.7,2829.7 750.8,2827.5 764.7,2822.0 775.3,2816.4 782.6,2811.3 785.9,2808.3 790.0,2804.0 797.2,2794.5 805.9,2780.5 813.9,2766.0 826.7,2740.6 832.7,2730.2 836.1,2725.3 840.2,2720.9 843.7,2718.2 846.5,2717.1 848.0,2716.9 851.0,2717.1 853.8,2718.0 856.4,2719.4 862.0,2724.2 867.9,2730.9 871.4,2735.7 875.4,2742.1 887.2,2764.7 894.1,2776.3 902.7,2788.5 912.2,2800.1 919.6,2807.5 926.5,2813.2 934.0,2818.1 942.0,2822.2 954.3,2827.5 965.6,2831.6 990.0,2838.9 1007.5,2843.5 1020.7,2846.3 1044.3,2850.2 1054.6,2852.2 1107.3,2864.3 1148.3,2873.0 1173.4,2877.8 1198.5,2882.0 1234.2,2887.3 1268.4,2891.8 1313.1,2896.9 1342.9,2899.6 1375.9,2901.9 1446.3,2906.1 1543.6,2911.3 1593.1,2913.6 1647.0,2915.4 1731.0,2917.4 1800.0,2918.7 1866.0,2919.5 2047.5,2920.4 2076.0,2920.0 2127.0,2918.5" fill="none" stroke="#ff1c1c" stroke-width="3.2" stroke-linejoin="round" stroke-linecap="round"/>
<path d="M2127.0,2918.5 2125.5,2921.0 2122.9,2922.3 2118.5,2923.1 2111.0,2923.5 2061.6,2923.0 1914.6,2925.4 1716.7,2926.8 1521.7,2930.4 1475.3,2931.6 1394.4,2935.1 1301.4,2937.6 1231.0,2940.9 1183.1,2944.3 1150.3,2947.3 1129.4,2949.7 1087.9,2955.9 1018.4,2967.8 999.2,2970.8 959.0,2975.8 887.4,2982.8 866.6,2986.0 841.6,2990.9 824.1,2995.0 806.7,2999.4 759.2,3013.5 736.0,3019.5 718.7,3024.5 699.9,3029.3 692.8,3031.6 687.3,3033.9 681.9,3036.6 676.9,3039.7 671.3,3044.4 662.2,3054.0 646.1,3069.6 635.2,3082.0 625.8,3093.6 620.6,3100.9 615.7,3108.5 593.0,3147.3 582.7,3163.9 575.8,3173.7 569.3,3181.9 556.8,3194.8 556.0,3196.0 555.3,3200.3 554.3,3201.4 551.6,3202.7 531.9,3209.8 526.1,3211.2 523.1,3211.5 520.1,3211.2 514.3,3209.8 506.1,3206.3 501.0,3203.2 495.2,3198.6 479.5,3182.8 475.6,3178.4 472.9,3174.8 467.7,3165.8 463.7,3156.1 457.4,3137.7 452.9,3128.4 449.7,3123.3 443.7,3114.8 441.5,3112.7 440.3,3111.8 438.9,3111.4 437.6,3111.8 432.7,3115.2 422.0,3120.6 372.8,3142.8 342.0,3158.2 334.3,3162.9 327.0,3168.1 320.1,3173.8 313.6,3180.1 306.7,3187.9 300.3,3196.2 294.4,3204.9 289.0,3213.9 283.0,3225.9 277.4,3239.8 267.8,3268.3 255.0,3309.8 251.9,3318.3 248.3,3326.5 249.4,3311.5 252.1,3248.6 257.3,3148.3 263.1,3061.5 265.2,3039.1 268.4,3010.7 271.3,2989.9 274.5,2970.7 283.3,2926.6 287.2,2909.0 292.0,2891.7 296.3,2878.9 298.6,2873.5 300.7,2869.5 305.1,2863.7 307.1,2861.6 310.6,2858.9 317.0,2855.5 349.3,2843.7 357.9,2840.9 372.3,2837.0 387.0,2833.8 401.8,2831.4 418.2,2829.6 452.6,2827.7 466.1,2827.4 478.1,2827.6 496.0,2828.9 539.2,2834.1 554.1,2835.4 579.6,2836.6 606.6,2836.7 636.6,2836.0 660.5,2834.7 683.0,2832.9 717.3,2829.5 742.7,2828.0 748.6,2827.2 752.9,2826.2 757.0,2824.7 760.9,2822.7 764.6,2820.3 768.1,2817.5 773.6,2812.4 789.4,2796.4 797.2,2787.4 803.8,2777.5 810.7,2764.2 816.3,2751.9 827.8,2724.2 833.8,2712.2 838.6,2704.6 842.4,2700.0 846.9,2696.3 851.0,2694.4 852.5,2694.1 855.5,2694.1 859.7,2695.5 863.3,2698.1 868.0,2703.8 874.7,2713.8 881.6,2725.3 887.4,2735.9 897.7,2755.9 904.3,2767.6 910.7,2777.8 917.0,2786.1 924.0,2793.9 931.8,2800.9 940.3,2807.0 949.2,2812.5 959.9,2817.8 972.4,2823.1 991.9,2830.8 1004.7,2834.9 1052.5,2847.7 1125.2,2865.9 1150.2,2871.4 1184.1,2877.7 1216.6,2883.1 1252.3,2888.1 1292.5,2893.0 1329.8,2896.8 1480.8,2907.9 1524.2,2910.5 1572.2,2912.8 1627.6,2914.8 1705.6,2916.9 1779.1,2918.4 1848.1,2919.3 1938.1,2920.0 2046.0,2920.4 2076.0,2920.0 2127.0,2918.5" fill="none" stroke="#00ff10" stroke-width="4" stroke-linejoin="round" stroke-linecap="round"/>
<path d="M1642,3318.6H1686.1" stroke="#0000ff" stroke-width="3.5"/>
<text x="1688.6" y="3337.9" letter-spacing="-0.8">Cycle 1</text>
<path d="M1642,3398.1H1686.1" stroke="#ff1c1c" stroke-width="3.5"/>
<text x="1688.6" y="3417.4" letter-spacing="-0.8">Cycle 2</text>
<path d="M1642,3477.6H1686.1" stroke="#00ff10" stroke-width="3.5"/>
<text x="1688.6" y="3496.9" letter-spacing="-0.8">Cycle 3</text>
<text x="1982" y="2715.5" font-family='"DejaVu Sans", sans-serif' font-size="80">c</text>
</svg></body></html>
